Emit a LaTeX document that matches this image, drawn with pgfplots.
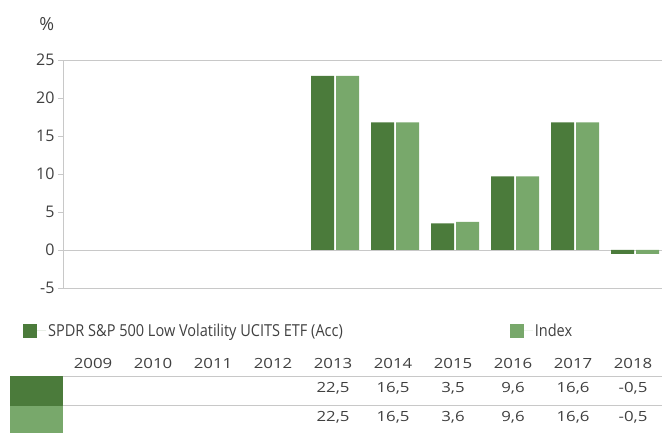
\documentclass[border=0pt]{standalone}
\usepackage{pgfplots}
\pgfplotsset{compat=1.18}
\usepackage{fontspec}
\setmainfont{Open Sans}
\newfontfamily\tablefont[FakeStretch=1.2]{Open Sans}
\newfontfamily\legendfont[FakeStretch=0.88]{Open Sans}
\definecolor{etf}{HTML}{4B7B3B}
\definecolor{idx}{HTML}{78A86B}
\definecolor{gridgray}{HTML}{C8C8C8}
\definecolor{txt}{HTML}{404040}
\begin{document}
\begin{tikzpicture}[x=1pt,y=1pt]
\useasboundingbox (0,0) rectangle (662,433);
\begin{axis}[
  at={(63pt,145pt)}, anchor=south west,
  scale only axis, width=599pt, height=228pt,
  xmin=-0.5333, xmax=9.45, ymin=-5, ymax=25,
  ytick={-5,0,...,25},
  xtick=\empty,
  axis x line*=bottom, axis y line*=left,
  axis line style={-, draw=gridgray, line width=0.8pt},
  tick align=outside, major tick length=5pt,
  ytick style={draw=gridgray, line width=0.8pt},
  yticklabel style={font=\fontsize{16}{19}\selectfont, text=txt},
  /pgf/number format/assume math mode=true,
  ylabel={\%},
  ylabel style={rotate=-90, at={(axis description cs:-0.027,1.156)}, anchor=center, font=\fontsize{18}{21}\selectfont, text=txt},
  ybar, bar width=23pt,
  major grid style={draw=gridgray, line width=0.8pt},
  extra y ticks={0,25}, extra y tick labels={},
  extra y tick style={grid=major, major tick length=0pt},
  clip=false,
  legend columns=2,
  legend cell align=left,
  legend style={at={(axis description cs:-0.0668,-0.1886)}, anchor=west, draw=none, fill=none, inner sep=0pt,
    font=\legendfont\fontsize{16.5}{19}\selectfont, text=txt,
    /tikz/every even column/.append style={column sep=165pt}},
]
\addplot[fill=etf, draw=none, bar shift=-12.5pt,
  legend image code/.code={\fill[etf] (0pt,-7pt) rectangle (14pt,7pt); \path (0pt,0pt) -- (23pt,0pt);}]
  coordinates {(4,22.9) (5,16.8) (6,3.5) (7,9.7) (8,16.8) (9,-0.5)};
\addlegendentry{SPDR S\&P 500 Low Volatility UCITS ETF (Acc)}
\addplot[fill=idx, draw=none, bar shift=12.5pt,
  legend image code/.code={\fill[idx] (0pt,-7pt) rectangle (14pt,7pt); \path (0pt,0pt) -- (23pt,0pt);}]
  coordinates {(4,22.9) (5,16.8) (6,3.7) (7,9.7) (8,16.8) (9,-0.5)};
\addlegendentry{Index}
\end{axis}
% data table below the chart
\fill[etf] (10,27.3) rectangle (62.5,57);
\fill[idx] (10,0) rectangle (62.5,27.3);
\draw[gridgray, line width=0.8pt] (62.5,57) -- (662,57);
\draw[gridgray, line width=0.8pt] (62.5,27.3) -- (662,27.3);
\foreach \yr [count=\i from 0] in {2009,2010,2011,2012,2013,2014,2015,2016,2017,2018}
  \node[font=\tablefont\fontsize{14}{17}\selectfont, text=txt] at (93+60*\i, 70) {\yr};
\foreach \v [count=\i from 4] in {{22,5},{16,5},{3,5},{9,6},{16,6},{-0,5}}
  \node[font=\tablefont\fontsize{14}{17}\selectfont, text=txt] at (93+60*\i, 44.5) {\v};
\foreach \v [count=\i from 4] in {{22,5},{16,5},{3,6},{9,6},{16,6},{-0,5}}
  \node[font=\tablefont\fontsize{14}{17}\selectfont, text=txt] at (93+60*\i, 15.3) {\v};
\end{tikzpicture}
\end{document}
